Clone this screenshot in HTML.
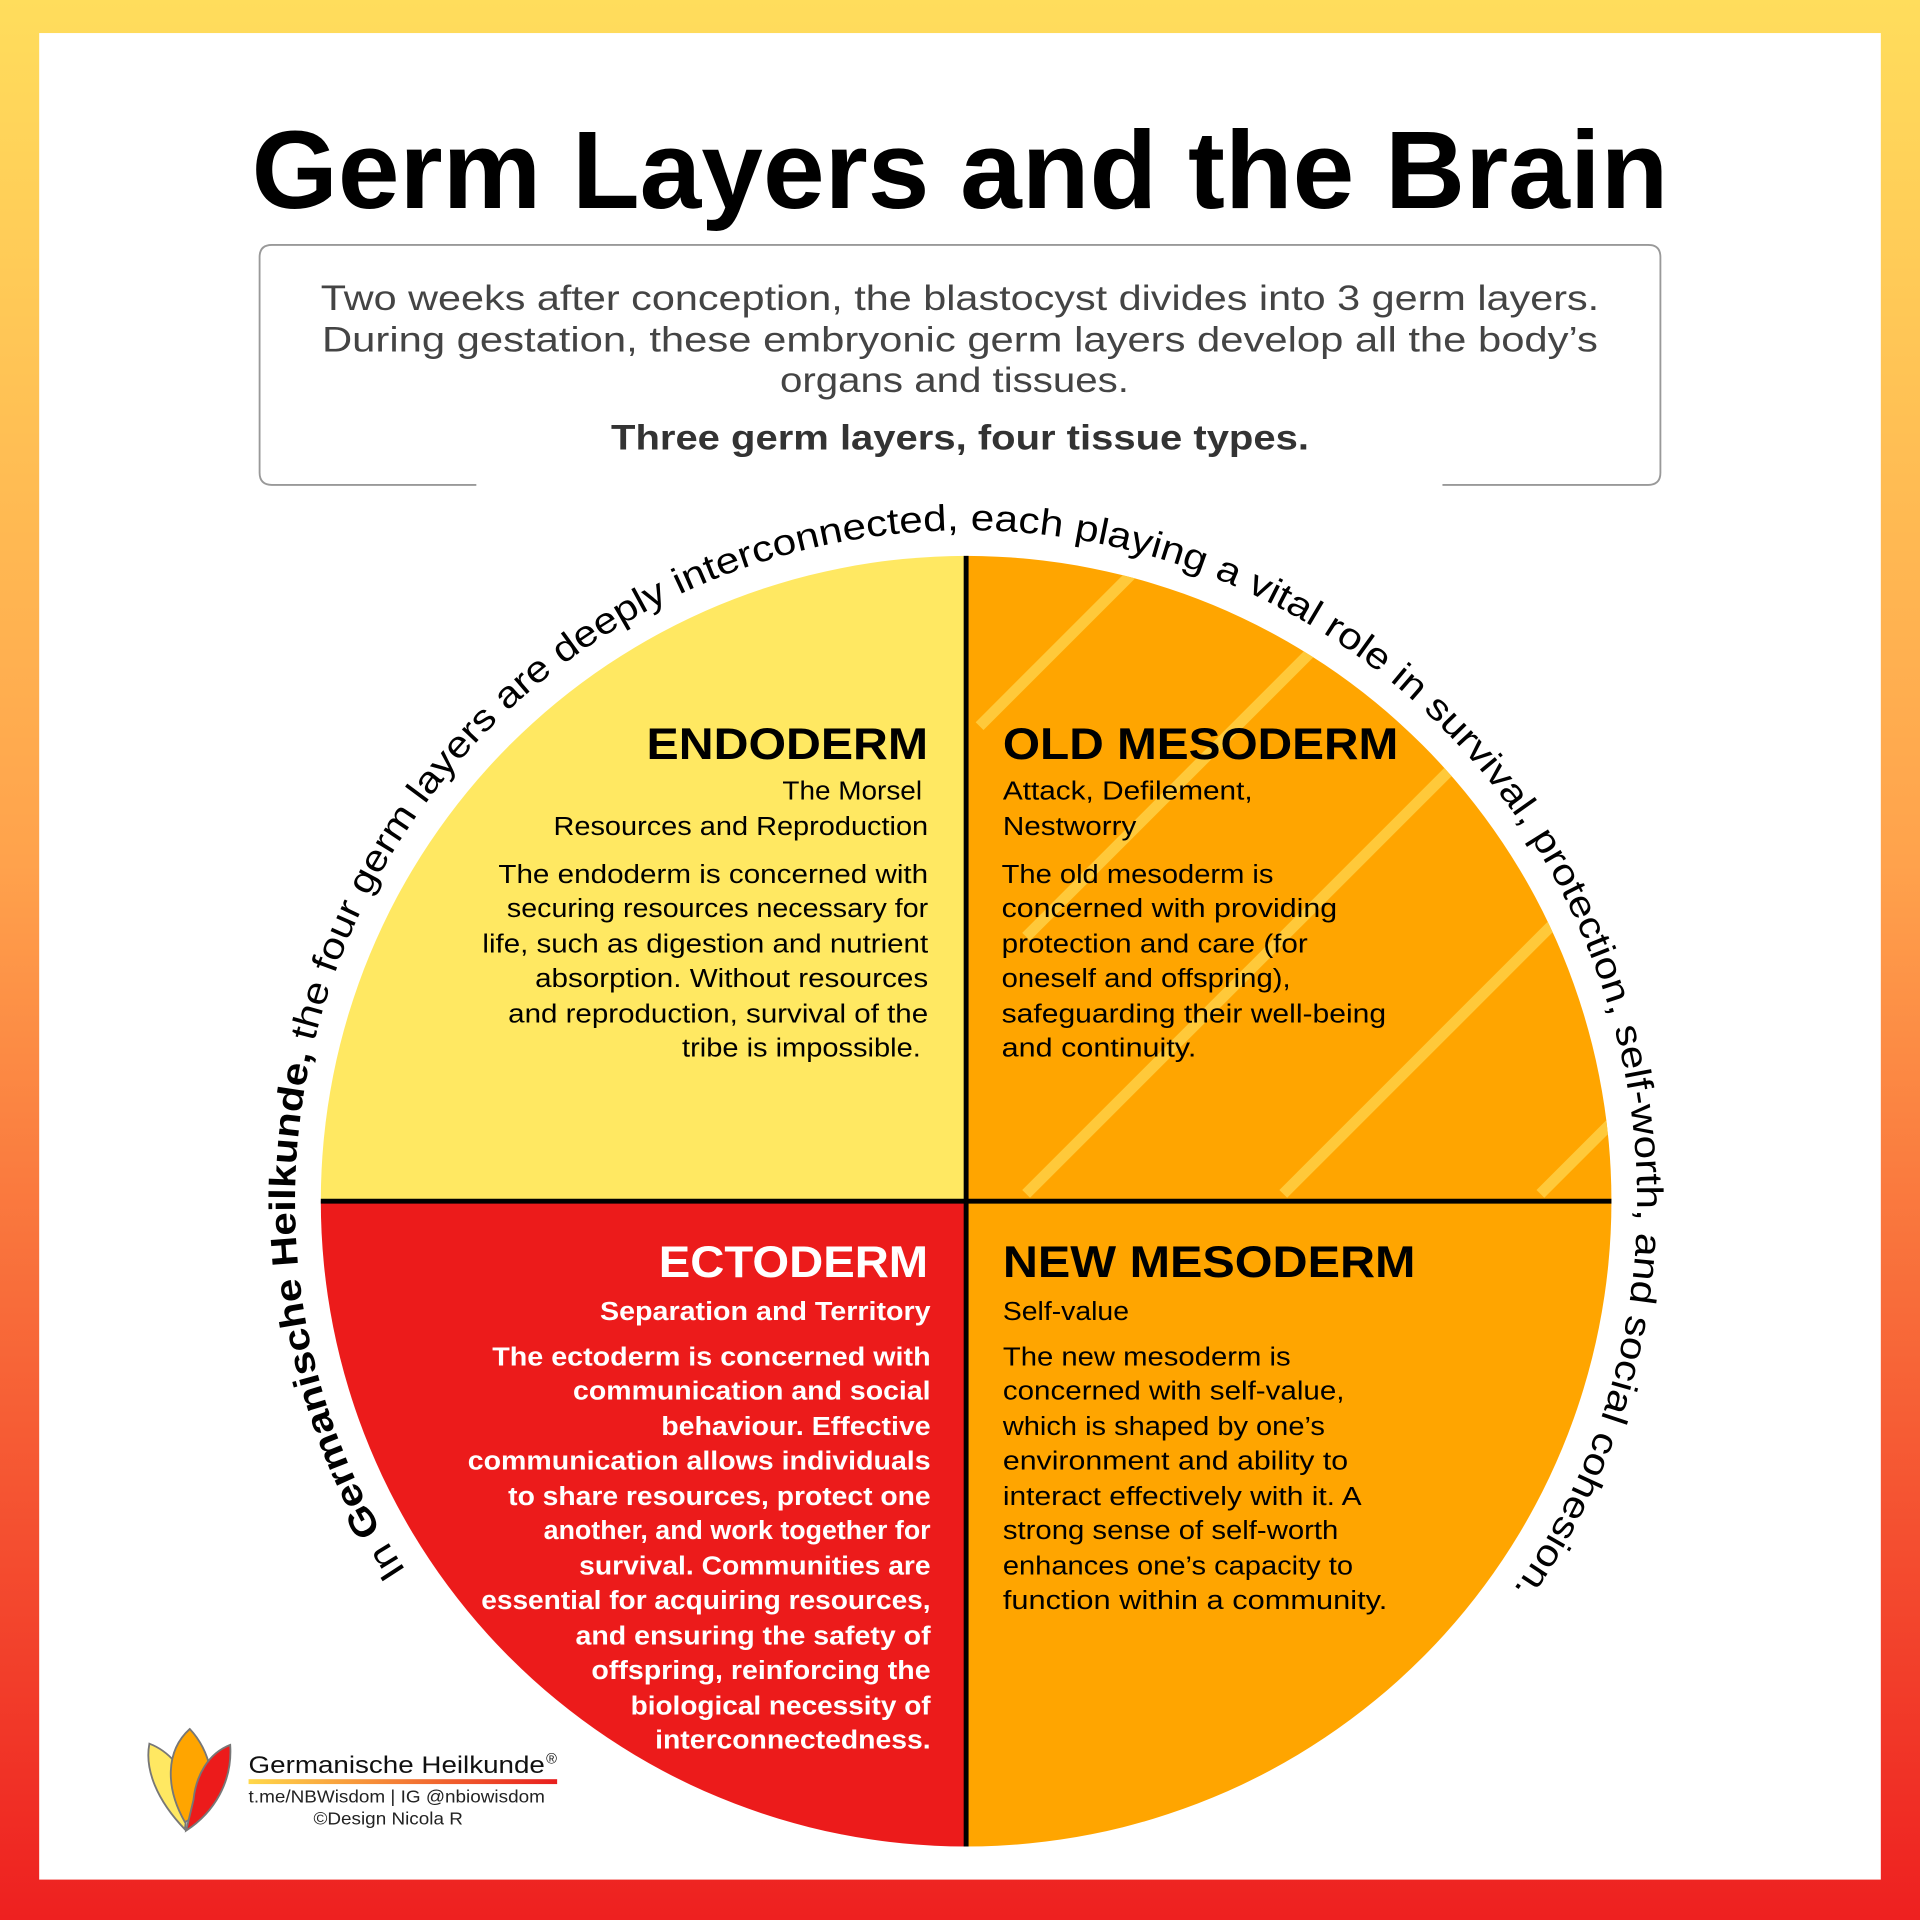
<!DOCTYPE html>
<html><head><meta charset="utf-8"><style>html,body{margin:0;padding:0;background:#fff}svg{display:block}</style></head><body>
<svg width="1920" height="1920" viewBox="0 0 1568 1568" xmlns="http://www.w3.org/2000/svg" font-family="Liberation Sans, sans-serif">
<defs>
<linearGradient id="fr" x1="0" y1="0" x2="0" y2="1"><stop offset="0" stop-color="#FFDD5C"/><stop offset="0.45" stop-color="#FFA24C"/><stop offset="1" stop-color="#EE2020"/></linearGradient>
<linearGradient id="ln" x1="0" y1="0" x2="1" y2="0"><stop offset="0" stop-color="#FFD84A"/><stop offset="1" stop-color="#E81E1E"/></linearGradient>
<clipPath id="q2"><path d="M789,981 L789,454 A527,527 0 0 1 1316,981 Z"/></clipPath>
<path id="arc" d="M331.5,1282.7 A548,548 0 1 1 1236.2,1297.7"/>
</defs>
<rect width="1568" height="1568" fill="url(#fr)"/>
<rect x="32" y="27" width="1504" height="1508" fill="#fff"/>
<text x="784" y="170" text-anchor="middle" font-size="90" font-weight="bold" textLength="1157" lengthAdjust="spacingAndGlyphs" fill="#000">Germ Layers and the Brain</text>
<path d="M389,396 L222,396 Q212,396 212,386 L212,210 Q212,200 222,200 L1346,200 Q1356,200 1356,210 L1356,386 Q1356,396 1346,396 L1178,396" fill="none" stroke="#999" stroke-width="1.5"/>
<g fill="#444" font-size="29">
<text x="262" y="253" textLength="1044" lengthAdjust="spacingAndGlyphs">Two weeks after conception, the blastocyst divides into 3 germ layers.</text>
<text x="263" y="287" textLength="1042" lengthAdjust="spacingAndGlyphs">During gestation, these embryonic germ layers develop all the body’s</text>
<text x="637" y="320" textLength="285" lengthAdjust="spacingAndGlyphs">organs and tissues.</text>
<text x="499" y="367" font-weight="bold" fill="#333" textLength="570" lengthAdjust="spacingAndGlyphs">Three germ layers, four tissue types.</text>
</g>
<path d="M789,981 L262,981 A527,527 0 0 1 789,454 Z" fill="#FFE862"/>
<path d="M789,981 L789,454 A527,527 0 0 1 1316,981 Z" fill="#FFA500"/>
<path d="M789,981 L789,1508 A527,527 0 0 1 262,981 Z" fill="#EC1B1B"/>
<path d="M789,981 L1316,981 A527,527 0 0 1 789,1508 Z" fill="#FFA500"/>
<g clip-path="url(#q2)" stroke="#FFC93A" stroke-width="9">
<line x1="800" y1="593" x2="1200" y2="193"/>
<line x1="838" y1="765" x2="1400" y2="203"/>
<line x1="838" y1="975" x2="1600" y2="213"/>
<line x1="1048" y1="975" x2="1800" y2="223"/>
<line x1="1258" y1="975" x2="2000" y2="233"/>
</g>
<line x1="789" y1="454" x2="789" y2="1508" stroke="#000" stroke-width="4"/>
<line x1="262" y1="981" x2="1316" y2="981" stroke="#000" stroke-width="4"/>
<text font-size="30" fill="#000"><textPath href="#arc" textLength="2379" lengthAdjust="spacingAndGlyphs">In <tspan font-weight="bold">Germanische Heilkunde,</tspan> the four germ layers are deeply interconnected, each playing a vital role in survival, protection, self-worth, and social cohesion.</textPath></text>
<g fill="#000">
<text x="528" y="620" font-size="36" font-weight="bold" textLength="230" lengthAdjust="spacingAndGlyphs">ENDODERM</text>
<g font-size="21">
<text x="639" y="653" textLength="114" lengthAdjust="spacingAndGlyphs">The Morsel</text>
<text x="452" y="682" textLength="306" lengthAdjust="spacingAndGlyphs">Resources and Reproduction</text>
<text x="407" y="721" textLength="351" lengthAdjust="spacingAndGlyphs">The endoderm is concerned with</text>
<text x="414" y="749" textLength="344" lengthAdjust="spacingAndGlyphs">securing resources necessary for</text>
<text x="394" y="778" textLength="364" lengthAdjust="spacingAndGlyphs">life, such as digestion and nutrient</text>
<text x="437" y="806" textLength="321" lengthAdjust="spacingAndGlyphs">absorption. Without resources</text>
<text x="415" y="835" textLength="343" lengthAdjust="spacingAndGlyphs">and reproduction, survival of the</text>
<text x="557" y="863" textLength="195" lengthAdjust="spacingAndGlyphs">tribe is impossible.</text>
</g>
<text x="819" y="620" font-size="36" font-weight="bold" textLength="323" lengthAdjust="spacingAndGlyphs">OLD MESODERM</text>
<g font-size="21">
<text x="819" y="653" textLength="204" lengthAdjust="spacingAndGlyphs">Attack, Defilement,</text>
<text x="819" y="682" textLength="109" lengthAdjust="spacingAndGlyphs">Nestworry</text>
<text x="818" y="721" textLength="222" lengthAdjust="spacingAndGlyphs">The old mesoderm is</text>
<text x="818" y="749" textLength="274" lengthAdjust="spacingAndGlyphs">concerned with providing</text>
<text x="818" y="778" textLength="250" lengthAdjust="spacingAndGlyphs">protection and care (for</text>
<text x="818" y="806" textLength="236" lengthAdjust="spacingAndGlyphs">oneself and offspring),</text>
<text x="818" y="835" textLength="314" lengthAdjust="spacingAndGlyphs">safeguarding their well-being</text>
<text x="818" y="863" textLength="159" lengthAdjust="spacingAndGlyphs">and continuity.</text>
</g>
<text x="819" y="1043" font-size="36" font-weight="bold" textLength="337" lengthAdjust="spacingAndGlyphs">NEW MESODERM</text>
<g font-size="21">
<text x="819" y="1078" textLength="103" lengthAdjust="spacingAndGlyphs">Self-value</text>
<text x="819" y="1115" textLength="235" lengthAdjust="spacingAndGlyphs">The new mesoderm is</text>
<text x="819" y="1143" textLength="279" lengthAdjust="spacingAndGlyphs">concerned with self-value,</text>
<text x="819" y="1172" textLength="263" lengthAdjust="spacingAndGlyphs">which is shaped by one’s</text>
<text x="819" y="1200" textLength="282" lengthAdjust="spacingAndGlyphs">environment and ability to</text>
<text x="819" y="1229" textLength="293" lengthAdjust="spacingAndGlyphs">interact effectively with it. A</text>
<text x="819" y="1257" textLength="274" lengthAdjust="spacingAndGlyphs">strong sense of self-worth</text>
<text x="819" y="1286" textLength="286" lengthAdjust="spacingAndGlyphs">enhances one’s capacity to</text>
<text x="819" y="1314" textLength="314" lengthAdjust="spacingAndGlyphs">function within a community.</text>
</g>
</g>
<g fill="#fff" font-weight="bold">
<text x="538" y="1043" font-size="36" textLength="220" lengthAdjust="spacingAndGlyphs">ECTODERM</text>
<g font-size="21">
<text x="490" y="1078" textLength="270" lengthAdjust="spacingAndGlyphs">Separation and Territory</text>
<text x="402" y="1115" textLength="358" lengthAdjust="spacingAndGlyphs">The ectoderm is concerned with</text>
<text x="468" y="1143" textLength="292" lengthAdjust="spacingAndGlyphs">communication and social</text>
<text x="540" y="1172" textLength="220" lengthAdjust="spacingAndGlyphs">behaviour. Effective</text>
<text x="382" y="1200" textLength="378" lengthAdjust="spacingAndGlyphs">communication allows individuals</text>
<text x="415" y="1229" textLength="345" lengthAdjust="spacingAndGlyphs">to share resources, protect one</text>
<text x="444" y="1257" textLength="316" lengthAdjust="spacingAndGlyphs">another, and work together for</text>
<text x="473" y="1286" textLength="287" lengthAdjust="spacingAndGlyphs">survival. Communities are</text>
<text x="393" y="1314" textLength="367" lengthAdjust="spacingAndGlyphs">essential for acquiring resources,</text>
<text x="470" y="1343" textLength="290" lengthAdjust="spacingAndGlyphs">and ensuring the safety of</text>
<text x="483" y="1371" textLength="277" lengthAdjust="spacingAndGlyphs">offspring, reinforcing the</text>
<text x="515" y="1400" textLength="245" lengthAdjust="spacingAndGlyphs">biological necessity of</text>
<text x="535" y="1428" textLength="225" lengthAdjust="spacingAndGlyphs">interconnectedness.</text>
</g>
</g>
<g stroke="#777" stroke-width="1.5">
<path d="M151,1494 C128,1470 118,1445 122,1424 C138,1430 150,1445 155,1460 Z" fill="#FFE862"/>
<path d="M151,1488 C135,1460 135,1430 155,1412 C172,1430 178,1460 170,1478 Z" fill="#FFA500"/>
<path d="M152,1495 C175,1480 190,1455 188,1425 C170,1432 160,1450 158,1470 Z" fill="#EC1B1B"/>
</g>
<text x="203" y="1448" font-size="20" fill="#111" textLength="242" lengthAdjust="spacingAndGlyphs">Germanische Heilkunde</text>
<text x="446" y="1440" font-size="12" fill="#111">®</text>
<rect x="203" y="1453" width="252" height="4" fill="url(#ln)"/>
<text x="203" y="1472" font-size="14" fill="#222" textLength="242" lengthAdjust="spacingAndGlyphs">t.me/NBWisdom | IG @nbiowisdom</text>
<text x="256" y="1490" font-size="14" fill="#222" textLength="122" lengthAdjust="spacingAndGlyphs">©Design Nicola R</text>
</svg>
</body></html>
